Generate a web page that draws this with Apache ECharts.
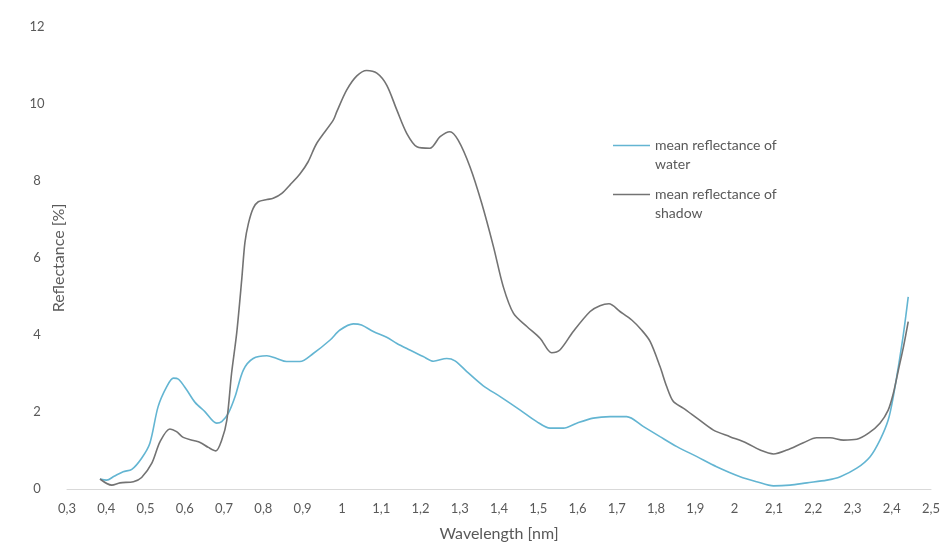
<!DOCTYPE html>
<html>
<head>
<meta charset="utf-8">
<script src="https://cdn.jsdelivr.net/npm/echarts@6/dist/echarts.min.js"></script>
<style>
  html, body { margin: 0; padding: 0; background: #ffffff; }
  #chart { width: 948px; height: 548px; }
</style>
</head>
<body>
<div id="chart"></div>
<script>
// Mean spectral reflectance (%) against wavelength for water and shadow pixels
const waterWavelength = [
  0.384, 0.401, 0.420, 0.443, 0.465, 0.490, 0.511, 0.532, 0.554, 0.571, 0.584, 0.605, 0.626, 0.651,
  0.681, 0.694, 0.711, 0.728, 0.749, 0.774, 0.809, 0.834, 0.859, 0.893, 0.927, 0.970, 0.995, 1.029,
  1.050, 1.080, 1.114, 1.140, 1.173, 1.207, 1.233, 1.267, 1.288, 1.318, 1.360, 1.403, 1.454, 1.496,
  1.530, 1.564, 1.598, 1.640, 1.683, 1.725, 1.768, 1.810, 1.853, 1.904, 1.954, 2.014, 2.056, 2.099,
  2.141, 2.184, 2.235, 2.269, 2.311, 2.345, 2.370, 2.391, 2.404, 2.417, 2.430, 2.442
];
const waterReflectance = [
  0.26, 0.23, 0.33, 0.45, 0.51, 0.80, 1.19, 2.14, 2.66, 2.88, 2.85, 2.57, 2.25, 2.01,
  1.71, 1.75, 1.97, 2.40, 3.09, 3.39, 3.46, 3.39, 3.31, 3.31, 3.52, 3.87, 4.13, 4.29,
  4.26, 4.09, 3.94, 3.78, 3.61, 3.44, 3.32, 3.39, 3.33, 3.05, 2.68, 2.40, 2.05, 1.75,
  1.58, 1.58, 1.71, 1.84, 1.88, 1.88, 1.62, 1.36, 1.10, 0.84, 0.58, 0.32, 0.19, 0.08,
  0.10, 0.16, 0.23, 0.32, 0.54, 0.84, 1.27, 1.79, 2.40, 3.18, 4.04, 4.99
];

const shadowWavelength = [
  0.384, 0.414, 0.435, 0.469, 0.490, 0.516, 0.537, 0.562, 0.579, 0.596, 0.622, 0.639, 0.660, 0.679,
  0.694, 0.707, 0.719, 0.732, 0.745, 0.753, 0.762, 0.774, 0.787, 0.809, 0.825, 0.847, 0.868, 0.893,
  0.914, 0.936, 0.978, 0.987, 1.012, 1.038, 1.063, 1.089, 1.114, 1.140, 1.165, 1.191, 1.224, 1.250,
  1.275, 1.296, 1.326, 1.356, 1.386, 1.411, 1.437, 1.471, 1.505, 1.534, 1.555, 1.589, 1.632, 1.657,
  1.680, 1.708, 1.738, 1.763, 1.785, 1.810, 1.827, 1.844, 1.869, 1.904, 1.946, 1.988, 2.031, 2.065,
  2.099, 2.133, 2.175, 2.209, 2.243, 2.277, 2.311, 2.341, 2.370, 2.391, 2.404, 2.417, 2.430, 2.442
];
const shadowReflectance = [
  0.26, 0.10, 0.16, 0.19, 0.30, 0.67, 1.23, 1.56, 1.49, 1.34, 1.26, 1.21, 1.08, 0.99,
  1.27, 1.79, 3.00, 4.04, 5.45, 6.40, 6.90, 7.29, 7.46, 7.52, 7.55, 7.68, 7.90, 8.18,
  8.50, 8.98, 9.58, 9.80, 10.36, 10.73, 10.87, 10.80, 10.49, 9.84, 9.24, 8.89, 8.85, 9.15,
  9.28, 9.06, 8.37, 7.42, 6.29, 5.25, 4.56, 4.22, 3.91, 3.54, 3.61, 4.09, 4.61, 4.76,
  4.81, 4.61, 4.39, 4.13, 3.83, 3.18, 2.66, 2.27, 2.10, 1.84, 1.53, 1.36, 1.19, 1.01,
  0.91, 1.01, 1.20, 1.33, 1.33, 1.27, 1.29, 1.45, 1.71, 2.05, 2.48, 3.09, 3.70, 4.35
];

const seriesNames = ['mean reflectance of water', 'mean reflectance of shadow'];
const seriesColors = ['#63b5d2', '#737373'];

const pairs = (xs, ys) => xs.map((x, i) => [x, ys[i]]);
const decimalComma = v => String(+v.toFixed(1)).replace('.', ',');

const FONT = 'Lato, "Open Sans", sans-serif';
const TEXT = '#595959';

// One legend block per series; the blank first line keeps the key line
// level with the first text line of the wrapped label.
const legendBlock = (name, top) => ({
  data: [name],
  left: 613,
  top: top,
  padding: 0,
  icon: 'rect',
  itemWidth: 37,
  itemHeight: 1.5,
  itemGap: 6,
  selectedMode: false,
  formatter: n => '\n' + n.replace(' of ', ' of\n'),
  textStyle: {
    color: TEXT,
    fontFamily: FONT,
    fontSize: 14,
    lineHeight: 19
  }
});

const chart = echarts.init(document.getElementById('chart'), null, { renderer: 'canvas' });
chart.setOption({
  backgroundColor: '#ffffff',
  animation: false,
  grid: { left: 67, right: 17, top: 27, bottom: 59 },
  legend: [legendBlock(seriesNames[0], 117), legendBlock(seriesNames[1], 166)],
  xAxis: {
    type: 'value',
    min: 0.3,
    max: 2.5,
    interval: 0.1,
    name: 'Wavelength [nm]',
    nameLocation: 'middle',
    nameGap: 37,
    nameMoveOverlap: false,
    nameTextStyle: { color: TEXT, fontFamily: FONT, fontSize: 16 },
    axisLine: { show: true, lineStyle: { color: '#d9d9d9', width: 1 } },
    axisTick: { show: false },
    splitLine: { show: false },
    axisLabel: {
      color: TEXT, fontFamily: FONT, fontSize: 13, margin: 13,
      formatter: decimalComma
    }
  },
  yAxis: {
    type: 'value',
    min: 0,
    max: 12,
    interval: 2,
    name: 'Reflectance [%]',
    nameLocation: 'middle',
    nameGap: 0,
    nameMoveOverlap: false,
    nameTextStyle: { color: TEXT, fontFamily: FONT, fontSize: 16 },
    axisLine: { show: false },
    axisTick: { show: false },
    splitLine: { show: false },
    axisLabel: {
      color: TEXT, fontFamily: FONT, fontSize: 13, margin: 30, align: 'center'
    }
  },
  series: [
    {
      name: seriesNames[0],
      type: 'line',
      data: pairs(waterWavelength, waterReflectance),
      symbol: 'none',
      smooth: 0.3,
      lineStyle: { color: seriesColors[0], width: 1.6 },
      itemStyle: { color: seriesColors[0] }
    },
    {
      name: seriesNames[1],
      type: 'line',
      data: pairs(shadowWavelength, shadowReflectance),
      symbol: 'none',
      smooth: 0.3,
      lineStyle: { color: seriesColors[1], width: 1.6 },
      itemStyle: { color: seriesColors[1] }
    }
  ]
});
</script>
</body>
</html>
